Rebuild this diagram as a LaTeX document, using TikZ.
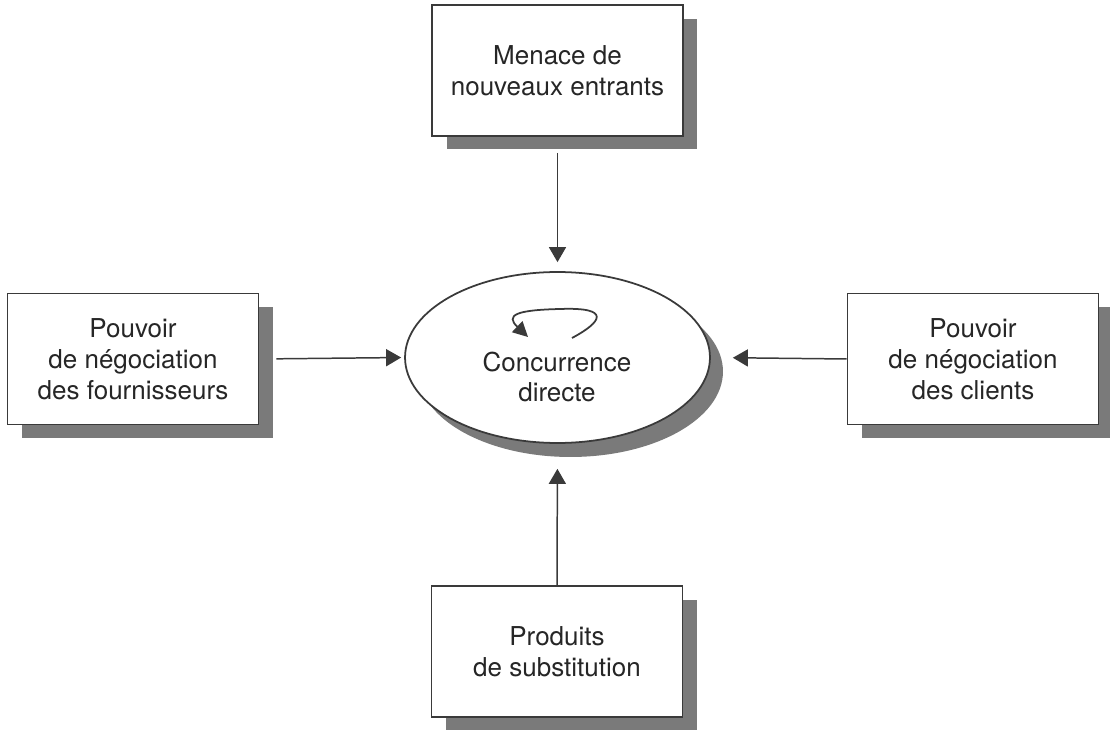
\documentclass[tikz,border=0pt]{standalone}
\usepackage{fontspec}
\setmainfont{TeX Gyre Heros}
\usepackage{xcolor}
\definecolor{cLine}{HTML}{3A3A3A}
\definecolor{cText}{HTML}{262626}
\definecolor{cShadow}{HTML}{7A7A7A}
\usepackage{tikz}
\usetikzlibrary{positioning,arrows.meta,shapes.geometric,shadows,calc}
\tikzset{
  force-box/.style={draw=cLine,line width=0.9pt,fill=white,
    minimum width=5.02cm,minimum height=2.62cm,align=center,
    text=cText,inner sep=0pt,
    drop shadow={shadow xshift=0.29cm,shadow yshift=-0.27cm,
      fill=cShadow,opacity=1}},
  rivalry/.style={draw=cLine,line width=1pt,fill=white,ellipse,
    minimum width=6.1cm,minimum height=3.42cm,inner sep=0pt,
    drop shadow={shadow xshift=0.26cm,shadow yshift=-0.28cm,
      fill=cShadow,opacity=1}},
  force-arrow/.style={-{Triangle[length=0.3cm,width=0.34cm]},
    line width=0.85pt,draw=cLine},
}

\begin{document}
\begin{tikzpicture}[x=0.02cm,y=-0.02cm,
    font=\fontsize{14.8}{17.6}\selectfont]
  \useasboundingbox (0,0) rectangle (1110,733);
  % ellipse centrale
  \node[rivalry]                (conc)  at (557.5,357.5) {};
  \node[text=cText,align=center] (conct) at (557,377) {Concurrence\\directe};
  % les quatre forces
  \node[force-box] (entr)  at (557.5,70.5) {Menace de\\nouveaux entrants};
  \node[force-box] (fourn) at (133,359)   {Pouvoir\\de négociation\\des fournisseurs};
  \node[force-box] (cli)   at (973,359)   {Pouvoir\\de négociation\\des clients};
  \node[force-box] (subst) at (557,651.5) {Produits\\de substitution};
  % fleches
  \draw[force-arrow,shorten <=0.32cm,shorten >=0.18cm] (entr.south) -- (conc.north);
  \draw[force-arrow,shorten <=0.34cm,shorten >=0.06cm] (fourn.east) -- (conc.west);
  \draw[force-arrow,shorten >=0.44cm] (cli.west) -- (conc.east);
  \draw[force-arrow,shorten >=0.5cm] (subst.north) -- (conc.south);
  % boucle
  \draw[-{Triangle[length=0.3cm,width=0.3cm]},line width=1pt,draw=cLine]
    (572,338) .. controls (602,322) and (612,307) .. (560,309)
    .. controls (516,310) and (505,315) .. (528,337);
\end{tikzpicture}
\end{document}
